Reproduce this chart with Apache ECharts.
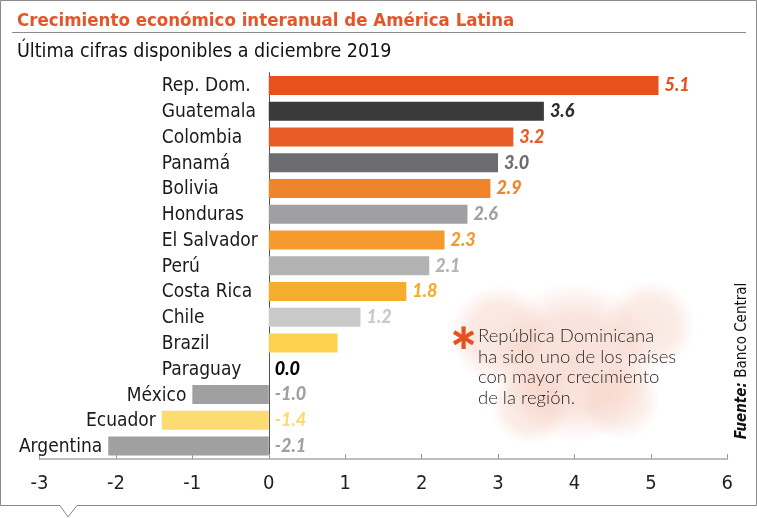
<!DOCTYPE html>
<html>
<head>
<meta charset="utf-8">
<script src="https://cdn.jsdelivr.net/npm/echarts@6/dist/echarts.min.js"></script>
<style>
  html, body { margin: 0; padding: 0; background: #fff; }
  #chart { width: 757px; height: 518px; }
</style>
</head>
<body>
<div id="chart"></div>
<script>
var categories = ['Rep. Dom.', 'Guatemala', 'Colombia', 'Panamá', 'Bolivia', 'Honduras', 'El Salvador',
    'Perú', 'Costa Rica', 'Chile', 'Brazil', 'Paraguay', 'México', 'Ecuador', 'Argentina'];
var values = [5.1, 3.6, 3.2, 3.0, 2.9, 2.6, 2.3, 2.1, 1.8, 1.2, 0.9, 0.0, -1.0, -1.4, -2.1];
var valueLabels = ['5.1', '3.6', '3.2', '3.0', '2.9', '2.6', '2.3', '2.1', '1.8', '1.2', '', '0.0', '-1.0', '-1.4', '-2.1'];
var noteLines = ['República Dominicana', 'ha sido uno de los países', 'con mayor crecimiento', 'de la región.'];

// colores de barra y de etiqueta
var barColors = ['#e8501e', '#3a3a3a', '#e85c25', '#6d6c70', '#f0842a', '#a09fa2', '#f59a2c',
    '#b3b3b3', '#f5ad2e', '#c9c9c9', '#fcd14d', '#000', '#a0a0a0', '#fcdb72', '#a0a0a0'];
var labelColors = ['#e8501e', '#2e2e2e', '#e85c25', '#6d6c70', '#f0842a', '#a09fa2', '#f59a2c',
    '#b3b3b3', '#f5ad2e', '#c9c9c9', '#fcd14d', '#000', '#a0a0a0', '#fcdb72', '#a0a0a0'];

var narrow = "'Liberation Sans Narrow', 'DejaVu Sans Condensed', sans-serif";

function blob(cx, cy, rx, ry, a) {
    return {
        type: 'ellipse',
        shape: { cx: cx, cy: cy, rx: rx, ry: ry },
        style: {
            fill: new echarts.graphic.RadialGradient(0.5, 0.5, 0.5, [
                { offset: 0, color: 'rgba(243,196,180,' + a + ')' },
                { offset: 0.6, color: 'rgba(243,196,180,' + (a * 0.8) + ')' },
                { offset: 1, color: 'rgba(243,196,180,0)' }
            ])
        }
    };
}

var myChart = echarts.init(document.getElementById('chart'));

var option = {
    animation: false,
    backgroundColor: '#fff',
    title: [{
        text: 'Crecimiento económico interanual de América Latina',
        left: 12,
        top: 7,
        textStyle: { fontFamily: narrow, fontWeight: 'bold', fontSize: 18.5, color: '#e4562a' }
    }, {
        text: 'Última cifras disponibles a diciembre 2019',
        left: 12,
        top: 37,
        textStyle: { fontFamily: narrow, fontWeight: 'normal', fontSize: 19.5, color: '#111' }
    }],
    grid: {
        left: 39.5,
        right: 29.7,
        top: 72.6,
        bottom: 59
    },
    xAxis: {
        type: 'value',
        min: -3,
        max: 6,
        interval: 1,
        splitLine: { show: false },
        axisLine: { show: true, lineStyle: { color: '#bdbdbd', width: 2 } },
        axisTick: { show: true, inside: true, length: 5, lineStyle: { color: '#999' } },
        axisLabel: { margin: 15, fontSize: 20, color: '#222', fontFamily: narrow }
    },
    yAxis: {
        type: 'category',
        inverse: true,
        data: categories,
        axisLine: { show: true, onZero: true, lineStyle: { color: '#555', width: 1 } },
        axisTick: { show: false },
        axisLabel: { show: false }
    },
    series: [{
        type: 'bar',
        barWidth: 19,
        data: values.map(function (v, i) {
            return {
                value: v,
                itemStyle: { color: barColors[i] },
                label: { show: valueLabels[i] !== '', color: labelColors[i] }
            };
        }),
        label: {
            show: true,
            position: 'right',
            distance: 6,
            fontFamily: 'Lato',
            fontWeight: 900,
            fontStyle: 'italic',
            fontSize: 18,
            formatter: function (p) {
                return valueLabels[p.dataIndex];
            }
        }
    }, {
        // nombres de países
        type: 'bar',
        barWidth: 19,
        barGap: '-100%',
        silent: true,
        itemStyle: { color: 'rgba(0,0,0,0)' },
        data: values.map(function (v) {
            if (v < 0) {
                return { value: v, label: { position: 'left', distance: 6 } };
            }
            return { value: v, label: { position: [-107, '50%'], align: 'left', verticalAlign: 'middle' } };
        }),
        label: {
            show: true,
            fontFamily: narrow,
            fontSize: 19,
            color: '#1a1a1a',
            offset: [0, 1],
            formatter: function (p) {
                return categories[p.dataIndex];
            }
        }
    }],
    graphic: [{
        type: 'polyline',
        z: 0,
        shape: {
            points: [[0.5, 0.5], [756.5, 0.5], [756.5, 505.5], [77, 505.5], [68, 517], [60, 505.5], [0.5, 505.5], [0.5, 0.5]]
        },
        style: { stroke: '#8a8a8a', fill: null, lineWidth: 1 }
    }, {
        type: 'line',
        shape: { x1: 12, y1: 32.5, x2: 746, y2: 32.5 },
        style: { stroke: '#8a8a8a', lineWidth: 1 }
    }, {
        type: 'group',
        z: -1,
        children: [
            blob(575, 362, 140, 80, 0.55),
            blob(500, 335, 70, 50, 0.45),
            blob(650, 325, 70, 45, 0.4),
            blob(530, 405, 80, 40, 0.4),
            blob(620, 400, 80, 40, 0.35)
        ]
    }, {
        type: 'text',
        x: 450,
        y: 323,
        style: { text: '*', fill: '#e8501e', font: '900 64px Lato' }
    }, {
        type: 'text',
        x: 478,
        y: 326,
        style: {
            text: noteLines.join('\n'),
            fill: '#2a2a2a',
            font: '300 18.5px Lato',
            lineHeight: 20.5
        }
    }, {
        type: 'text',
        x: 742,
        y: 361,
        rotation: Math.PI / 2,
        style: {
            text: '{b|Fuente:} Banco Central',
            align: 'center',
            verticalAlign: 'middle',
            fill: '#111',
            font: '15px ' + narrow,
            rich: {
                b: { fontWeight: 'bold', fontStyle: 'italic', fontSize: 15, fontFamily: narrow, fill: '#111' }
            }
        }
    }]
};

myChart.setOption(option);
</script>
</body>
</html>
